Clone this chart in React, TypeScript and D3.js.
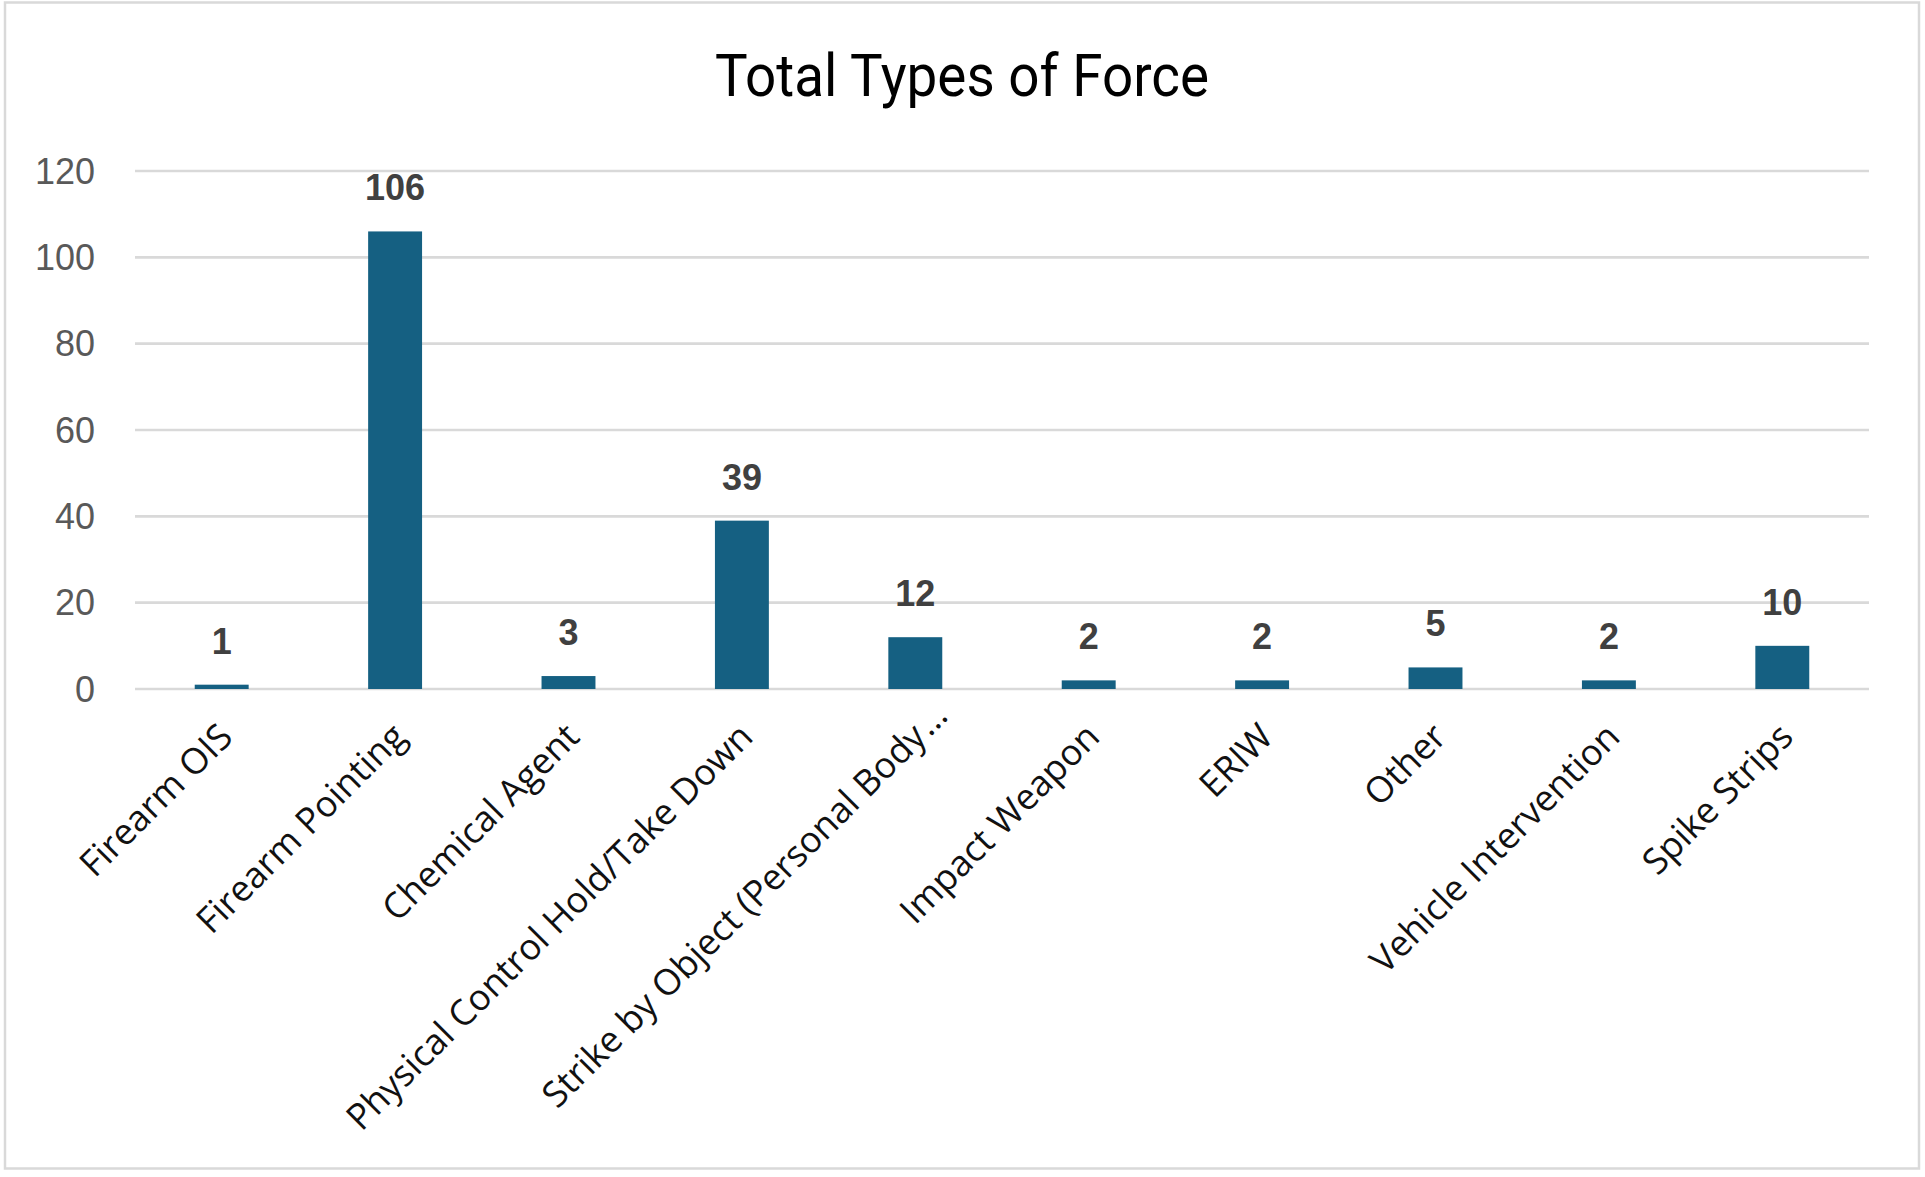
import React from "react";
import * as d3 from "d3";

const categories = [
  "Firearm OIS",
  "Firearm Pointing",
  "Chemical Agent",
  "Physical Control Hold/Take Down",
  "Strike by Object (Personal Body…",
  "Impact Weapon",
  "ERIW",
  "Other",
  "Vehicle Intervention",
  "Spike Strips",
];
const values = [1, 106, 3, 39, 12, 2, 2, 5, 2, 10];
const yTicks = [0, 20, 40, 60, 80, 100, 120];
const title = "Total Types of Force";

const W = 1925;
const H = 1177;
const left = 135;
const right = 1869;
const top = 171;
const bottom = 689;

export default function App() {
  const x = d3
    .scaleBand<string>()
    .domain(categories)
    .range([left, right])
    .paddingInner(0.689)
    .paddingOuter(0.3445);
  const y = d3.scaleLinear().domain([0, 120]).range([bottom, top]);
  const barColor = "#156082";

  return (
    <div style={{ position: "absolute", left: 0, top: 0 }}>
      <svg width={W} height={H} style={{ display: "block", background: "#fff" }}>
        <rect x={5} y={2.5} width={1914} height={1166} fill="#fff" stroke="#d9d9d9" strokeWidth={2.5} />
        <text
          x={962}
          y={96}
          textAnchor="middle"
          fontFamily="Roboto"
          fontSize={60}
          textLength={494}
          lengthAdjust="spacingAndGlyphs"
          fill="#000"
        >
          {title}
        </text>
        {yTicks.map((t) => (
          <g key={t}>
            <line x1={left} x2={right} y1={y(t)} y2={y(t)} stroke="#d9d9d9" strokeWidth={2.6} />
            <text
              x={95}
              y={y(t)}
              dy="0.35em"
              textAnchor="end"
              fontFamily="Liberation Sans"
              fontSize={36}
              fill="#595959"
            >
              {t}
            </text>
          </g>
        ))}
        {categories.map((c, i) => {
          const bx = x(c)!;
          const v = values[i];
          const cx = bx + x.bandwidth() / 2;
          return (
            <g key={c}>
              <rect x={bx} y={y(v)} width={x.bandwidth()} height={y(0) - y(v)} fill={barColor} />
              <text
                x={cx}
                y={y(v) - 31}
                textAnchor="middle"
                fontFamily="Liberation Sans"
                fontWeight="bold"
                fontSize={36}
                fill="#404040"
              >
                {v}
              </text>
            </g>
          );
        })}
        {categories.map((c) => {
          const cx = x(c)! + x.bandwidth() / 2;
          const truncated = c.endsWith("…");
          const main = truncated ? c.slice(0, -1) : c;
          return (
            <g key={"l" + c} transform={`translate(${cx + 4},${bottom + 41}) rotate(-45)`}>
              <text
                x={0}
                y={0}
                dy="0.35em"
                textAnchor="end"
                fontFamily="Open Sans"
                fontSize={36}
                fill="#111"
              >
                {main}
              </text>
              {truncated && (
                <text x={2} y={0} dy="0.35em" textAnchor="start" fontFamily="Open Sans" fontSize={36} fill="#111" letterSpacing={3}>
                  …
                </text>
              )}
            </g>
          );
        })}
      </svg>
    </div>
  );
}
